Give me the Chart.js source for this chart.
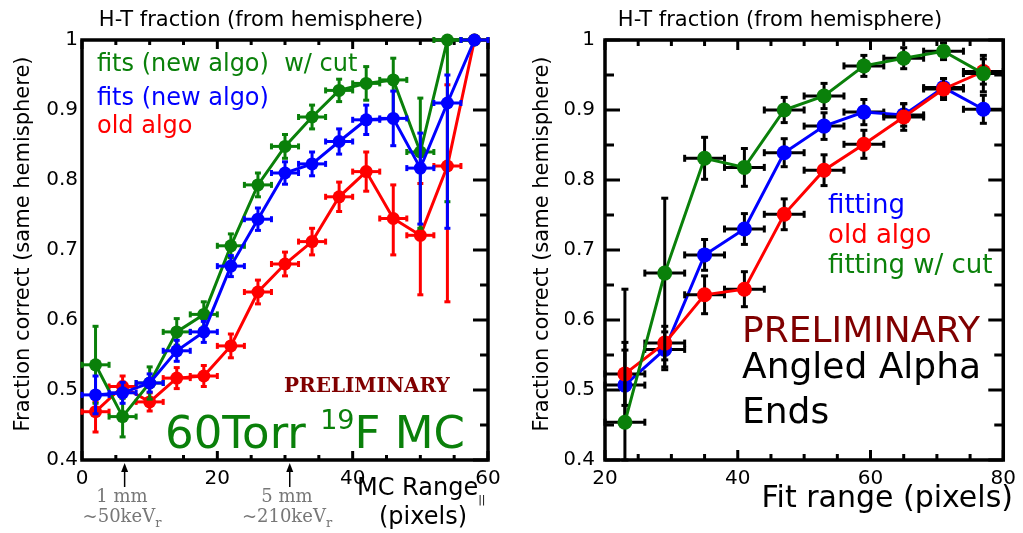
<!DOCTYPE html>
<html>
<head>
<meta charset="utf-8">
<title>H-T fraction</title>
<script src="https://cdn.jsdelivr.net/npm/chart.js@4/dist/chart.umd.min.js"></script>
<style>
  body { margin: 0; background: #fff; }
  canvas { position: absolute; top: 0; }
  #left  { left: 0; }
  #right { left: 512px; }
</style>
</head>
<body>
<canvas id="left" width="512" height="533"></canvas>
<canvas id="right" width="511" height="533"></canvas>
<script>
// ---- left panel: MC range bins (pixels) ----
const leftX      = [2, 6, 10, 14, 18, 22, 26, 30, 34, 38, 42, 46, 50, 54, 58];
const leftXErr   = 2;
const leftOld    = [0.469, 0.505, 0.483, 0.517, 0.520, 0.563, 0.640, 0.680, 0.712, 0.776, 0.812, 0.745, 0.721, 0.820, 1.000];
const leftOldLo  = [0.029, 0.015, 0.013, 0.015, 0.015, 0.017, 0.017, 0.017, 0.019, 0.021, 0.028, 0.052, 0.085, 0.194, 0];
const leftOldHi  = [0.014, 0.015, 0.013, 0.015, 0.015, 0.017, 0.017, 0.017, 0.019, 0.021, 0.028, 0.048, 0.074, 0.116, 0];
const leftFit    = [0.493, 0.496, 0.510, 0.556, 0.583, 0.677, 0.744, 0.810, 0.823, 0.855, 0.886, 0.888, 0.817, 0.910, 1.000];
const leftFitLo  = [0.027, 0.015, 0.013, 0.015, 0.015, 0.015, 0.016, 0.016, 0.017, 0.018, 0.021, 0.039, 0.080, 0.179, 0];
const leftFitHi  = [0.027, 0.015, 0.013, 0.015, 0.015, 0.015, 0.016, 0.016, 0.017, 0.018, 0.021, 0.039, 0.050, 0.040, 0];
const leftCut    = [0.536, 0.462, 0.510, 0.583, 0.608, 0.706, 0.793, 0.848, 0.890, 0.928, 0.938, 0.943, 0.840, 1.000, 1.000];
const leftCutLo  = [0.055, 0.029, 0.023, 0.019, 0.018, 0.017, 0.017, 0.017, 0.017, 0.016, 0.024, 0.057, 0.109, 0.231, 0];
const leftCutHi  = [0.055, 0.026, 0.023, 0.019, 0.018, 0.017, 0.017, 0.017, 0.017, 0.016, 0.024, 0.031, 0.077, 0, 0];

// ---- right panel: fit range bins (pixels) ----
const rightX     = [23, 29, 35, 41, 47, 53, 59, 65, 71, 77];
const rightXErr  = 3;
const rightFit   = [0.507, 0.558, 0.693, 0.730, 0.839, 0.877, 0.897, 0.893, 0.932, 0.901];
const rightFitLo = [0.050, 0.025, 0.022, 0.022, 0.020, 0.019, 0.018, 0.016, 0.013, 0.020];
const rightFitHi = [0.050, 0.025, 0.022, 0.022, 0.020, 0.019, 0.018, 0.016, 0.013, 0.020];
const rightOld   = [0.523, 0.567, 0.636, 0.644, 0.751, 0.814, 0.851, 0.890, 0.930, 0.955];
const rightOldLo = [0.045, 0.024, 0.027, 0.025, 0.022, 0.022, 0.020, 0.019, 0.015, 0.018];
const rightOldHi = [0.045, 0.024, 0.027, 0.025, 0.022, 0.022, 0.020, 0.019, 0.015, 0.018];
const rightCut   = [0.454, 0.667, 0.831, 0.818, 0.900, 0.920, 0.963, 0.974, 0.984, 0.952];
const rightCutLo = [0.054, 0.138, 0.030, 0.027, 0.018, 0.018, 0.015, 0.015, 0.012, 0.026];
const rightCutHi = [0.190, 0.107, 0.030, 0.027, 0.018, 0.018, 0.015, 0.015, 0.012, 0.026];

// axis ranges and labelled ticks
const yRange      = [0.4, 1.0];
const leftXRange  = [0, 60];
const rightXRange = [20, 80];

const RED = "#ff0000", BLUE = "#0000ff", GREEN = "#0a800a", DARKRED = "#800000";
const SANS = '"DejaVu Sans", sans-serif';
const SERIF = '"DejaVu Serif", serif';

function seg(ctx, x0, y0, x1, y1) {
  ctx.beginPath();
  ctx.moveTo(x0, y0);
  ctx.lineTo(x1, y1);
  ctx.stroke();
}

// Error bars, drawn just under each dataset
const errorBars = {
  id: "errorBars",
  beforeDatasetDraw(chart, args) {
    const ds = chart.data.datasets[args.index];
    if (!ds.errLo) return;
    const { ctx, scales: { x, y } } = chart;
    const cap = ds.capSize;
    ctx.save();
    ctx.strokeStyle = ds.errColor;
    ctx.lineWidth = ds.errWidth;
    ds.data.forEach((p, i) => {
      const px = x.getPixelForValue(p.x), py = y.getPixelForValue(p.y);
      const x0 = x.getPixelForValue(p.x - ds.errX), x1 = x.getPixelForValue(p.x + ds.errX);
      const y0 = y.getPixelForValue(p.y - ds.errLo[i]), y1 = y.getPixelForValue(p.y + ds.errHi[i]);
      seg(ctx, x0, py, x1, py);
      seg(ctx, x0, py - cap, x0, py + cap);
      seg(ctx, x1, py - cap, x1, py + cap);
      if (ds.errLo[i] > 0 || ds.errHi[i] > 0) {
        seg(ctx, px, y0, px, y1);
        if (ds.errLo[i] > 0) seg(ctx, px - cap, y0, px + cap, y0);
        if (ds.errHi[i] > 0) seg(ctx, px - cap, y1, px + cap, y1);
      }
    });
    ctx.restore();
  }
};

// Frame with inward tick marks
function makeFrame(sides, lens) {
  return {
    id: "frame",
    beforeDatasetsDraw(chart) {
      const { ctx, chartArea: a, scales: { x, y } } = chart;
      ctx.save();
      ctx.strokeStyle = "#000";
      ctx.lineWidth = 3;
      x.ticks.forEach(t => {
        const px = x.getPixelForValue(t.value);
        const len = t.label !== "" ? lens.xMajor : lens.xMinor;
        if (sides.includes("top")) seg(ctx, px, a.top, px, a.top + len);
        if (sides.includes("bottom")) seg(ctx, px, a.bottom, px, a.bottom - len);
      });
      y.ticks.forEach(t => {
        const py = y.getPixelForValue(t.value);
        const len = t.label !== "" ? lens.yMajor : lens.yMinor;
        if (sides.includes("left")) seg(ctx, a.left, py, a.left + len, py);
        if (sides.includes("right")) seg(ctx, a.right, py, a.right - len, py);
      });
      ctx.lineWidth = 3.5;
      ctx.strokeRect(a.left, a.top, a.right - a.left, a.bottom - a.top);
      ctx.restore();
    }
  };
}

// Free text (runs allow super/subscripts) and arrows
function makeNotes(items) {
  return {
    id: "notes",
    afterDraw(chart) {
      const ctx = chart.ctx;
      items.forEach(n => {
        ctx.save();
        if (n.arrow) {
          const px = chart.scales.x.getPixelForValue(n.xv);
          ctx.strokeStyle = ctx.fillStyle = "#000";
          ctx.lineWidth = 1.5;
          seg(ctx, px, n.y0, px, n.y1 + 6);
          ctx.beginPath();
          ctx.moveTo(px, n.y1);
          ctx.lineTo(px - 3.5, n.y1 + 9);
          ctx.lineTo(px + 3.5, n.y1 + 9);
          ctx.closePath();
          ctx.fill();
          ctx.restore();
          return;
        }
        const runs = n.runs || [{ text: n.text, font: n.font }];
        ctx.translate(n.x, n.y);
        if (n.rotate) ctx.rotate(n.rotate);
        ctx.textBaseline = "alphabetic";
        ctx.textAlign = "left";
        let total = 0;
        runs.forEach(r => { ctx.font = r.font; r.w = ctx.measureText(r.text).width; total += r.w; });
        let cx = n.align === "center" ? -total / 2 : n.align === "right" ? -total : 0;
        runs.forEach(r => {
          ctx.font = r.font;
          ctx.fillStyle = r.color || n.color || "#000";
          ctx.fillText(r.text, cx, r.dy || 0);
          cx += r.w;
        });
        ctx.restore();
      });
    }
  };
}

function series(label, xs, ys, lo, hi, xErr, color, errColor, style) {
  return {
    label,
    data: xs.map((x, i) => ({ x, y: ys[i] })),
    showLine: true,
    borderColor: color,
    backgroundColor: color,
    pointBackgroundColor: color,
    pointBorderWidth: 0,
    pointRadius: style.radius,
    pointHoverRadius: style.radius,
    borderWidth: style.line,
    tension: 0,
    clip: false,
    errX: xErr,
    errLo: lo,
    errHi: hi,
    errColor,
    errWidth: style.err,
    capSize: style.cap
  };
}

function axes(xRange, yPad) {
  return {
    x: {
      type: "linear", min: xRange[0], max: xRange[1],
      grid: { display: false, drawTicks: false }, border: { display: false },
      ticks: {
        stepSize: 5, autoSkip: false, maxRotation: 0, padding: 7, color: "#000",
        font: { family: SANS, size: 20 },
        callback: v => (v % 20 === 0 ? String(v) : "")
      },
      afterFit: s => { s.height = 30; }
    },
    y: {
      type: "linear", min: yRange[0], max: yRange[1],
      grid: { display: false, drawTicks: false }, border: { display: false },
      ticks: {
        stepSize: 0.05, autoSkip: false, padding: yPad, color: "#000",
        font: { family: SANS, size: 20 },
        callback: v => {
          const k = Math.round(v * 100);
          if (k % 10 !== 0) return "";
          return k === 100 ? "1" : (k / 100).toFixed(1);
        }
      },
      afterFit: s => { s.width = 40; }
    }
  };
}

const baseOptions = {
  responsive: false,
  animation: false,
  events: [],
  plugins: { legend: { display: false }, tooltip: { enabled: false } }
};

// Left: MC range
const leftStyle = { radius: 6.5, line: 3, err: 3, cap: 3 };
const leftNotes = [
  { text: "H-T fraction (from hemisphere)", font: `21px ${SANS}`, x: 261, y: 26, align: "center" },
  { text: "Fraction correct (same hemisphere)", font: `21px ${SANS}`, x: 29, y: 244, align: "center", rotate: -Math.PI / 2 },
  { text: "fits (new algo)  w/ cut", font: `24px ${SANS}`, color: GREEN, x: 97, y: 71 },
  { text: "fits (new algo)", font: `24px ${SANS}`, color: BLUE, x: 97, y: 105 },
  { text: "old algo", font: `24px ${SANS}`, color: RED, x: 97, y: 133 },
  { text: "PRELIMINARY", font: `bold 20px ${SERIF}`, color: DARKRED, x: 284, y: 392 },
  { color: GREEN, x: 165, y: 448, runs: [
    { text: "60Torr ", font: `45px ${SANS}` },
    { text: "19", font: `27px ${SANS}`, dy: -19 },
    { text: "F MC", font: `45px ${SANS}` }
  ] },
  { arrow: true, xv: 6.3, y0: 487, y1: 463 },
  { arrow: true, xv: 30.7, y0: 487, y1: 463 },
  { text: "1 mm", font: `18px ${SERIF}`, color: "#777", x: 122, y: 502, align: "center" },
  { color: "#777", x: 122, y: 522, align: "center", runs: [
    { text: "~50keV", font: `18px ${SERIF}` },
    { text: "r", font: `13px ${SERIF}`, dy: 5 }
  ] },
  { text: "5 mm", font: `18px ${SERIF}`, color: "#777", x: 287, y: 502, align: "center" },
  { color: "#777", x: 287, y: 522, align: "center", runs: [
    { text: "~210keV", font: `18px ${SERIF}` },
    { text: "r", font: `13px ${SERIF}`, dy: 5 }
  ] },
  { x: 357, y: 495, runs: [
    { text: "MC Range", font: `24px ${SANS}` },
    { text: "||", font: `11px ${SANS}`, dy: 8 }
  ] },
  { text: "(pixels)", font: `24px ${SANS}`, x: 423, y: 524, align: "center" }
];

new Chart(document.getElementById("left"), {
  type: "scatter",
  data: {
    datasets: [
      series("fits (new algo)", leftX, leftFit, leftFitLo, leftFitHi, leftXErr, BLUE, BLUE, leftStyle),
      series("fits (new algo) w/ cut", leftX, leftCut, leftCutLo, leftCutHi, leftXErr, GREEN, GREEN, leftStyle),
      series("old algo", leftX, leftOld, leftOldLo, leftOldHi, leftXErr, RED, RED, leftStyle)
    ]
  },
  options: {
    ...baseOptions,
    layout: { padding: { left: 42, right: 24, top: 40, bottom: 43 } },
    scales: axes(leftXRange, 4)
  },
  plugins: [makeFrame(["top", "bottom", "right"], { xMajor: 9, xMinor: 5, yMajor: 15, yMinor: 8 }), errorBars, makeNotes(leftNotes)]
});

// Right: fit range
const rightStyle = { radius: 7.5, line: 3, err: 3, cap: 3.5 };
const rightNotes = [
  { text: "H-T fraction (from hemisphere)", font: `21px ${SANS}`, x: 268, y: 26, align: "center" },
  { text: "Fraction correct (same hemisphere)", font: `21px ${SANS}`, x: 36, y: 244, align: "center", rotate: -Math.PI / 2 },
  { text: "fitting", font: `26px ${SANS}`, color: BLUE, x: 316, y: 213 },
  { text: "old algo", font: `26px ${SANS}`, color: RED, x: 316, y: 243 },
  { text: "fitting w/ cut", font: `26px ${SANS}`, color: GREEN, x: 316, y: 273 },
  { text: "PRELIMINARY", font: `36px ${SANS}`, color: DARKRED, x: 230, y: 342 },
  { text: "Angled Alpha", font: `36px ${SANS}`, x: 230, y: 378 },
  { text: "Ends", font: `36px ${SANS}`, x: 230, y: 423 },
  { text: "Fit range (pixels)", font: `30px ${SANS}`, x: 501, y: 507, align: "right" }
];

new Chart(document.getElementById("right"), {
  type: "scatter",
  data: {
    datasets: [
      series("fitting w/ cut", rightX, rightCut, rightCutLo, rightCutHi, rightXErr, GREEN, "#000", rightStyle),
      series("old algo", rightX, rightOld, rightOldLo, rightOldHi, rightXErr, RED, "#000", rightStyle),
      series("fitting", rightX, rightFit, rightFitLo, rightFitHi, rightXErr, BLUE, "#000", rightStyle)
    ]
  },
  options: {
    ...baseOptions,
    layout: { padding: { left: 53, right: 16, top: 40, bottom: 43 } },
    scales: axes(rightXRange, 10)
  },
  plugins: [makeFrame(["top", "bottom", "left", "right"], { xMajor: 10, xMinor: 6, yMajor: 15, yMinor: 9 }), errorBars, makeNotes(rightNotes)]
});
</script>
</body>
</html>
